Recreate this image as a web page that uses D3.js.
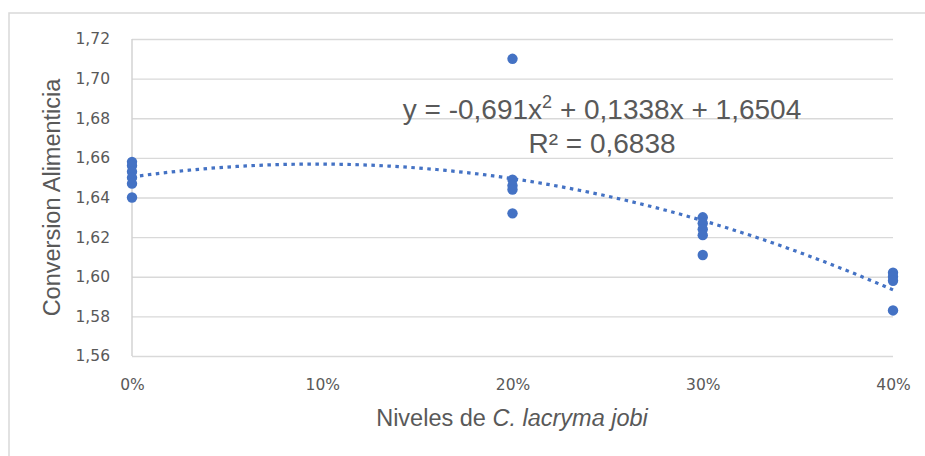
<!DOCTYPE html>
<html>
<head>
<meta charset="utf-8">
<script src="https://cdn.jsdelivr.net/npm/d3@7"></script>
<style>
  html, body { margin: 0; padding: 0; background: #fff; }
  svg { display: block; }
</style>
</head>
<body>
<div id="chart"></div>
<script>
// ---- Data ----
const levels = [0, 0.2, 0.3, 0.4];
const values0  = [1.658, 1.656, 1.653, 1.650, 1.647, 1.640];
const values20 = [1.710, 1.649, 1.646, 1.644, 1.632];
const values30 = [1.630, 1.627, 1.624, 1.621, 1.611];
const values40 = [1.602, 1.600, 1.598, 1.583];
const seriesValues = [values0, values20, values30, values40];
const trendCoefs = [-0.691, 0.1338, 1.6504]; // a x^2 + b x + c
const yTicks = [1.56, 1.58, 1.60, 1.62, 1.64, 1.66, 1.68, 1.70, 1.72];
const xTicks = [0, 0.1, 0.2, 0.3, 0.4];
const equationText = ["y = -0,691x", "2", " + 0,1338x + 1,6504"];
const r2Text = "R² = 0,6838";

// ---- Layout ----
const W = 925, H = 456;
const plot = { left: 132, right: 893, top: 39, bottom: 356 };
const grey = "#595959";
const blue = "#4472C4";

const svg = d3.select("#chart").append("svg")
  .attr("width", W).attr("height", H);

// outer border (extends past right/bottom edges)
svg.append("rect")
  .attr("x", 9).attr("y", 13)
  .attr("width", 1000).attr("height", 600)
  .attr("fill", "none").attr("stroke", "#d9d9d9").attr("stroke-width", 1.5);

const x = d3.scaleLinear().domain([0, 0.4]).range([plot.left, plot.right]);
const y = d3.scaleLinear().domain([1.56, 1.72]).range([plot.bottom, plot.top]);

const fmtY = v => d3.format(".2f")(v).replace(".", ",");
const fmtX = v => d3.format(".0%")(v);

// gridlines + y axis labels
const yAxis = d3.axisLeft(y).tickValues(yTicks).tickSize(-(plot.right - plot.left))
  .tickPadding(22).tickFormat(fmtY);
const gy = svg.append("g").attr("transform", `translate(${plot.left},0)`).call(yAxis);
gy.select(".domain").remove();
gy.selectAll(".tick line").attr("stroke", "#d9d9d9").attr("stroke-width", 1.4);
gy.selectAll(".tick text")
  .attr("fill", grey).attr("font-family", "DejaVu Sans").attr("font-size", 15.5);

// left axis line
svg.append("line")
  .attr("x1", plot.left).attr("x2", plot.left)
  .attr("y1", plot.top).attr("y2", plot.bottom)
  .attr("stroke", "#d0d0d0").attr("stroke-width", 1.4);

// x axis labels
const xAxis = d3.axisBottom(x).tickValues(xTicks).tickSize(0).tickPadding(23).tickFormat(fmtX);
const gx = svg.append("g").attr("transform", `translate(0,${plot.bottom})`).call(xAxis);
gx.select(".domain").remove();
gx.selectAll(".tick text")
  .attr("fill", grey).attr("font-family", "DejaVu Sans").attr("font-size", 15.5);

// trendline
const trendX = d3.range(0, 0.4001, 0.005);
const trend = trendX.map(t => [t, trendCoefs[0] * t * t + trendCoefs[1] * t + trendCoefs[2]]);
svg.append("path")
  .datum(trend)
  .attr("d", d3.line().x(d => x(d[0])).y(d => y(d[1])))
  .attr("fill", "none").attr("stroke", blue).attr("stroke-width", 3.2)
  .attr("stroke-dasharray", "3.5,4.5");

// points
const pts = [];
levels.forEach((lv, i) => seriesValues[i].forEach(v => pts.push([lv, v])));
svg.append("g").selectAll("circle").data(pts).join("circle")
  .attr("cx", d => x(d[0])).attr("cy", d => y(d[1])).attr("r", 5.2)
  .attr("fill", blue);

// equation
const eq = svg.append("text")
  .attr("x", 602).attr("y", 119)
  .attr("text-anchor", "middle")
  .attr("font-family", "Liberation Sans").attr("font-size", 28).attr("fill", grey);
eq.append("tspan").text(equationText[0]);
eq.append("tspan").attr("font-size", 18).attr("dy", -11).text(equationText[1]);
eq.append("tspan").attr("dy", 11).text(equationText[2]);

svg.append("text")
  .attr("x", 602).attr("y", 153)
  .attr("text-anchor", "middle")
  .attr("font-family", "Liberation Sans").attr("font-size", 28).attr("fill", grey)
  .text(r2Text);

// axis titles
svg.append("text")
  .attr("transform", `translate(60,${(plot.top + plot.bottom) / 2}) rotate(-90)`)
  .attr("text-anchor", "middle")
  .attr("font-family", "Liberation Sans").attr("font-size", 23.5).attr("fill", grey)
  .text("Conversion Alimenticia");

const xt = svg.append("text")
  .attr("x", 512).attr("y", 426)
  .attr("text-anchor", "middle")
  .attr("font-family", "Liberation Sans").attr("font-size", 23.5).attr("fill", grey);
xt.append("tspan").text("Niveles de ");
xt.append("tspan").attr("font-style", "italic").text("C. lacryma jobi");
</script>
</body>
</html>
